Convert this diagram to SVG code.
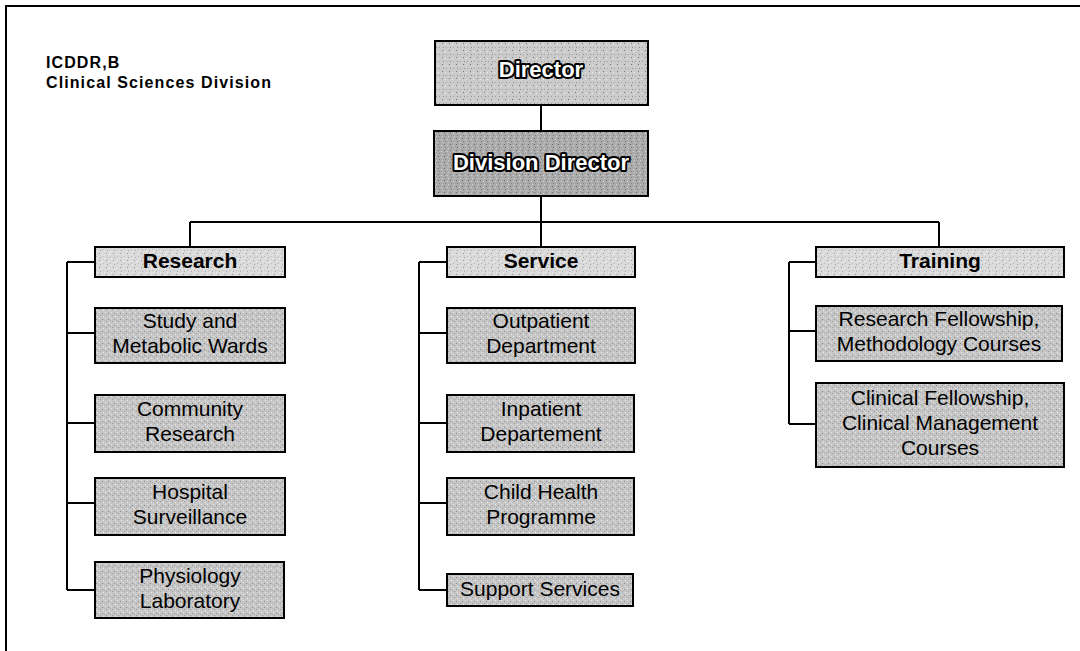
<svg xmlns="http://www.w3.org/2000/svg" width="1080" height="651" viewBox="0 0 1080 651">
<defs>
<pattern id="texLight" width="7" height="7" patternUnits="userSpaceOnUse">
<rect width="7" height="7" fill="#dadada"/>
<rect x="1" y="1" width="1" height="1" fill="#9a9a9a"/>
<rect x="4" y="2" width="1" height="1" fill="#f5f5f5"/>
<rect x="2" y="5" width="1" height="1" fill="#a8a8a8"/>
<rect x="5" y="4" width="1" height="1" fill="#bcbcbc"/>
<rect x="6" y="6" width="1" height="1" fill="#f0f0f0"/>
</pattern>
<pattern id="texMid" width="6" height="6" patternUnits="userSpaceOnUse">
<rect width="6" height="6" fill="#c6c6c6"/>
<rect x="0" y="1" width="1" height="1" fill="#8a8a8a"/>
<rect x="3" y="0" width="1" height="1" fill="#e6e6e6"/>
<rect x="4" y="3" width="1" height="1" fill="#9a9a9a"/>
<rect x="1" y="4" width="1" height="1" fill="#ececec"/>
<rect x="2" y="2" width="1" height="1" fill="#b0b0b0"/>
</pattern>
<pattern id="texDir" width="7" height="7" patternUnits="userSpaceOnUse">
<rect width="7" height="7" fill="#cbcbcb"/>
<rect x="1" y="1" width="1" height="1" fill="#7a7a7a"/>
<rect x="4" y="2" width="1" height="1" fill="#eeeeee"/>
<rect x="2" y="5" width="1" height="1" fill="#8e8e8e"/>
<rect x="5" y="5" width="1" height="1" fill="#a4a4a4"/>
</pattern>
<pattern id="texDark" width="6" height="6" patternUnits="userSpaceOnUse">
<rect width="6" height="6" fill="#ababab"/>
<rect x="0" y="0" width="1" height="1" fill="#6a6a6a"/>
<rect x="3" y="1" width="1" height="1" fill="#d4d4d4"/>
<rect x="1" y="3" width="1" height="1" fill="#7c7c7c"/>
<rect x="4" y="4" width="1" height="1" fill="#d0d0d0"/>
</pattern>
</defs>
<style>
.frame{fill:none;stroke:#000;stroke-width:2}
.box{stroke:#000;stroke-width:2}
.light{fill:url(#texLight)}
.mid{fill:url(#texMid)}
.dir{fill:url(#texDir)}
.dark{fill:url(#texDark)}
.conn line{stroke:#000;stroke-width:2;fill:none}
.t{font-family:"Liberation Sans",Arial,sans-serif;font-size:21px;fill:#000;text-anchor:middle}
.h{font-weight:bold}
.big{font-family:"Liberation Sans",Arial,sans-serif;font-size:22px;font-weight:bold;fill:#fff;stroke:#000;stroke-width:4;stroke-linejoin:round;paint-order:stroke;text-anchor:middle}
.title{font-family:"Liberation Sans",Arial,sans-serif;font-size:16px;font-weight:bold;fill:#000;letter-spacing:1.1px}
</style>
<rect width="1080" height="651" fill="#fff"/>
<rect class="frame" x="6" y="6" width="1090" height="670"/>
<g id="title">
<text class="title" x="46" y="68">ICDDR,B</text>
<text class="title" x="46" y="88">Clinical Sciences Division</text>
</g>
<g class="conn" id="connectors">
<line x1="541" y1="105" x2="541" y2="131"/>
<line x1="541" y1="196" x2="541" y2="247"/>
<line x1="190" y1="222" x2="939" y2="222"/>
<line x1="190" y1="222" x2="190" y2="247"/>
<line x1="939" y1="222" x2="939" y2="247"/>
<line x1="67" y1="262" x2="67" y2="590"/>
<line x1="67" y1="262" x2="95" y2="262"/>
<line x1="67" y1="333" x2="95" y2="333"/>
<line x1="67" y1="423" x2="95" y2="423"/>
<line x1="67" y1="503" x2="95" y2="503"/>
<line x1="67" y1="590" x2="95" y2="590"/>
<line x1="419" y1="262" x2="419" y2="590"/>
<line x1="419" y1="262" x2="447" y2="262"/>
<line x1="419" y1="333" x2="447" y2="333"/>
<line x1="419" y1="423" x2="447" y2="423"/>
<line x1="419" y1="503" x2="447" y2="503"/>
<line x1="419" y1="590" x2="447" y2="590"/>
<line x1="789" y1="262" x2="789" y2="424"/>
<line x1="789" y1="262" x2="816" y2="262"/>
<line x1="789" y1="331" x2="816" y2="331"/>
<line x1="789" y1="424" x2="816" y2="424"/>
</g>
<g id="director">
<rect class="box dir" x="435" y="41" width="213" height="64"/>
<text class="big" x="541" y="77">Director</text>
</g>
<g id="division-director">
<rect class="box dark" x="434" y="131" width="214" height="65"/>
<text class="big" x="541" y="170">Division Director</text>
</g>
<g id="research">
<rect class="box light" x="95" y="247" width="190" height="30"/>
<text class="t h" x="190" y="268">Research</text>
</g>
<g id="study-wards">
<rect class="box mid" x="95" y="308" width="190" height="55"/>
<text class="t" x="190" y="328">Study and</text>
<text class="t" x="190" y="353">Metabolic Wards</text>
</g>
<g id="community-research">
<rect class="box mid" x="95" y="395" width="190" height="57"/>
<text class="t" x="190" y="416">Community</text>
<text class="t" x="190" y="441">Research</text>
</g>
<g id="hospital-surveillance">
<rect class="box mid" x="95" y="478" width="190" height="57"/>
<text class="t" x="190" y="499">Hospital</text>
<text class="t" x="190" y="524">Surveillance</text>
</g>
<g id="physiology-lab">
<rect class="box mid" x="95" y="562" width="189" height="56"/>
<text class="t" x="190" y="583">Physiology</text>
<text class="t" x="190" y="608">Laboratory</text>
</g>
<g id="service">
<rect class="box light" x="447" y="247" width="188" height="30"/>
<text class="t h" x="541" y="268">Service</text>
</g>
<g id="outpatient">
<rect class="box mid" x="447" y="308" width="188" height="55"/>
<text class="t" x="541" y="328">Outpatient</text>
<text class="t" x="541" y="353">Department</text>
</g>
<g id="inpatient">
<rect class="box mid" x="447" y="395" width="187" height="57"/>
<text class="t" x="541" y="416">Inpatient</text>
<text class="t" x="541" y="441">Departement</text>
</g>
<g id="child-health">
<rect class="box mid" x="447" y="478" width="187" height="57"/>
<text class="t" x="541" y="499">Child Health</text>
<text class="t" x="541" y="524">Programme</text>
</g>
<g id="support-services">
<rect class="box mid" x="447" y="574" width="186" height="32"/>
<text class="t" x="540" y="596">Support Services</text>
</g>
<g id="training">
<rect class="box light" x="816" y="247" width="248" height="30"/>
<text class="t h" x="940" y="268">Training</text>
</g>
<g id="research-fellowship">
<rect class="box mid" x="816" y="306" width="246" height="55"/>
<text class="t" x="939" y="326">Research Fellowship,</text>
<text class="t" x="939" y="351">Methodology Courses</text>
</g>
<g id="clinical-fellowship">
<rect class="box mid" x="816" y="383" width="248" height="84"/>
<text class="t" x="940" y="405">Clinical Fellowship,</text>
<text class="t" x="940" y="430">Clinical Management</text>
<text class="t" x="940" y="455">Courses</text>
</g>
</svg>
